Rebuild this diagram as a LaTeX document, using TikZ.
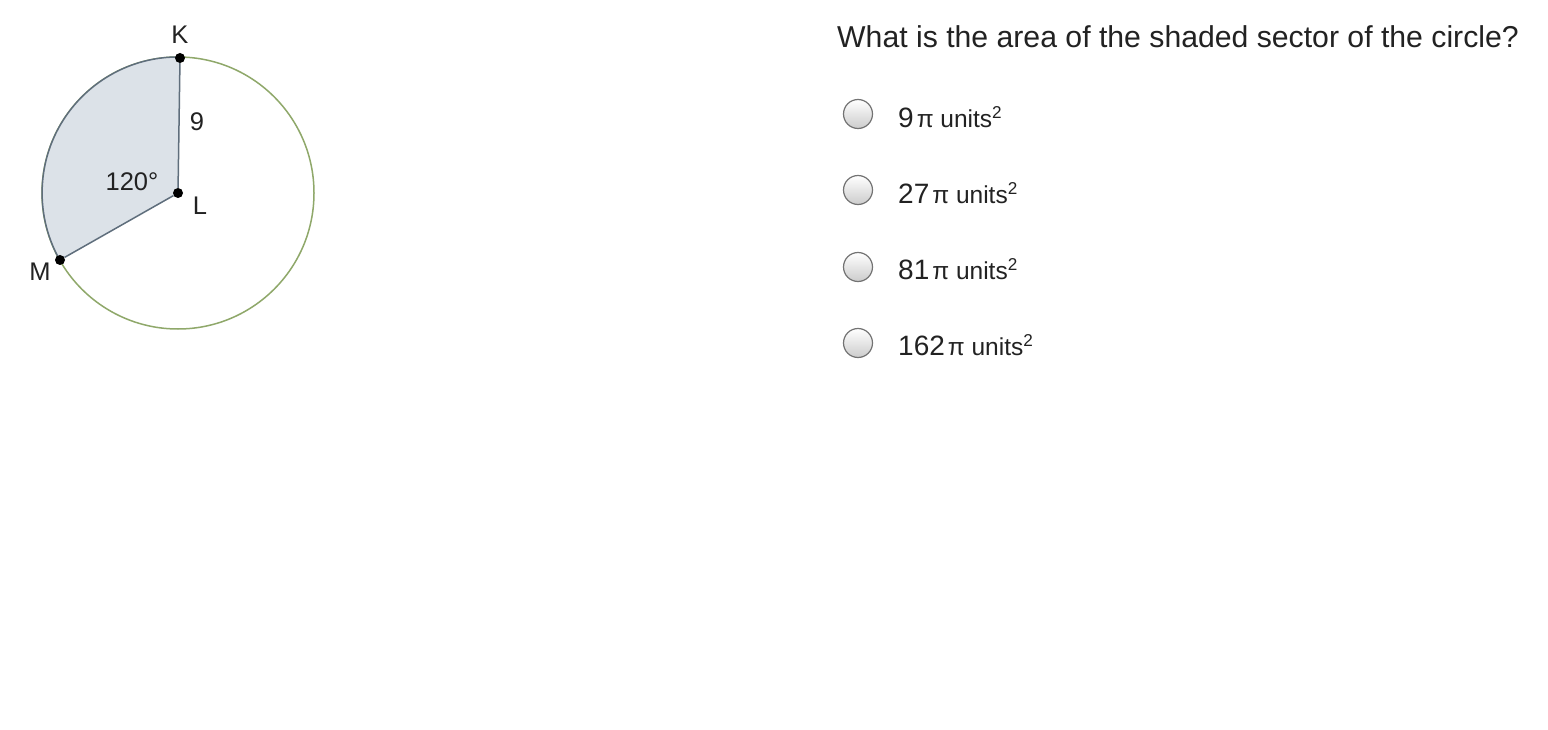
\documentclass[tikz,border=0pt]{standalone}
\usepackage{fontspec}
\setmainfont{Liberation Sans}
\definecolor{circgreen}{HTML}{8FA86A}
\definecolor{sectedge}{HTML}{5F6E7C}
\definecolor{sectfill}{HTML}{DCE2E8}
\definecolor{txt}{HTML}{222222}
\newcommand{\unitpart}[1]{{\fontsize{24.5}{26}\selectfont\hspace{3pt}#1}}
\begin{document}
\begin{tikzpicture}[x=1pt,y=-1pt,
  lbl/.style={font=\fontsize{25.5}{28}\selectfont, text=txt, inner sep=0pt},
  dot/.style={circle, fill=black, inner sep=0pt, minimum size=10pt},
  radio/.style={circle, draw=gray!90!black, line width=1.2pt, top color=white, bottom color=gray!40, minimum size=29pt, inner sep=0pt},
  ans/.style={font=\fontsize{28}{30}\selectfont, text=txt, anchor=west, inner sep=0pt},
  title/.style={font=\fontsize{30.2}{33}\selectfont, text=txt, anchor=west, inner sep=0pt}]
\useasboundingbox (0,0) rectangle (1548,730);
\fill[white] (0,0) rectangle (1548,730);
\coordinate (L) at (178,193);
% full circle
\draw[circgreen, line width=1.5pt] (L) circle (136);
% sector
\fill[sectfill] (L) -- (180,57.0) arc[start angle=-89.2, end angle=-209.6, radius=136] -- cycle;
\draw[sectedge, line width=1.5pt] (180,57.0) arc[start angle=-89.2, end angle=-209.6, radius=136];
\node[dot] (K) at (180,58) {};
\node[dot] (M) at (60,260) {};
\node[dot] (Lp) at (178,193) {};
\draw[sectedge, line width=1.5pt] (K) -- (Lp) -- (M);
\node[lbl] (lK) at (180,35) {K};
\node[lbl] (l9) at (197,122) {9};
\node[lbl] (l120) at (132,182) {120°};
\node[lbl] (lL) at (200,206) {L};
\node[lbl] (lM) at (40,272) {M};
% question
\node[title] (q) at (837,37) {What is the area of the shaded sector of the circle?};
\node[radio] (r1) at (858,114) {};
\node[radio] (r2) at (858,190) {};
\node[radio] (r3) at (858,267) {};
\node[radio] (r4) at (858,343) {};
\node[ans] (a1) at (898,117) {9\unitpart{π units\textsuperscript{2}}};
\node[ans] (a2) at (898,193) {27\unitpart{π units\textsuperscript{2}}};
\node[ans] (a3) at (898,269) {81\unitpart{π units\textsuperscript{2}}};
\node[ans] (a4) at (898,345) {162\unitpart{π units\textsuperscript{2}}};
\end{tikzpicture}
\end{document}
